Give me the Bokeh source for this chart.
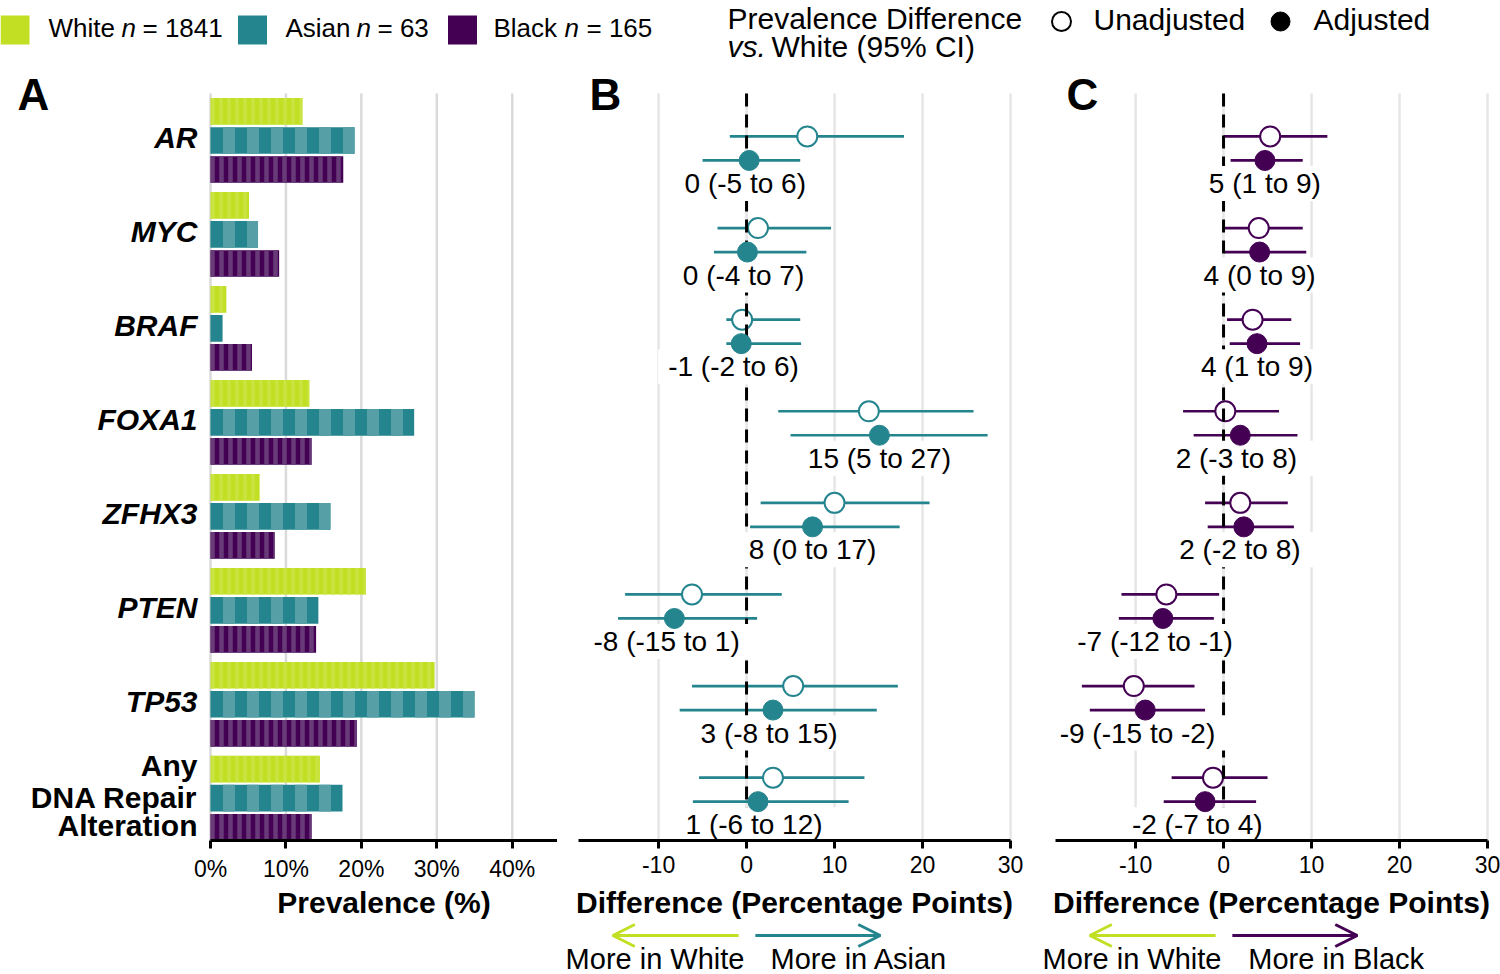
from bokeh.plotting import figure
from bokeh.models import Range1d, Arrow, OpenHead, FixedTicker
from bokeh.layouts import column, row
from bokeh.embed import file_html
from bokeh.resources import INLINE
from bokeh.core.properties import value

# ---------------- data ----------------
genes = ["AR", "MYC", "BRAF", "FOXA1", "ZFHX3", "PTEN", "TP53", "Any\nDNA Repair\nAlteration"]
gene_italic = [True, True, True, True, True, True, True, False]

groups = ["White", "Asian", "Black"]
group_n = [1841, 63, 165]

prev_white = [12.2, 5.1, 2.1, 13.1, 6.5, 20.6, 29.7, 14.5]
prev_asian = [19.1, 6.3, 1.6, 27.0, 15.9, 14.3, 35.0, 17.5]
prev_black = [17.6, 9.1, 5.5, 13.4, 8.5, 14.0, 19.4, 13.4]

# Asian vs White
asian_unadj = [6.9, 1.3, -0.5, 13.9, 10.0, -6.2, 5.3, 3.0]
asian_unadj_lo = [-1.9, -3.3, -2.3, 3.6, 1.6, -13.8, -6.2, -5.4]
asian_unadj_hi = [17.9, 9.6, 6.1, 25.8, 20.8, 4.0, 17.2, 13.4]
asian_adj = [0.3, 0.1, -0.6, 15.1, 7.5, -8.2, 3.0, 1.3]
asian_adj_lo = [-5.0, -3.7, -2.3, 5.0, 0.4, -14.6, -7.6, -6.1]
asian_adj_hi = [6.1, 6.8, 6.2, 27.4, 17.4, 1.2, 14.8, 11.6]
asian_labels = ["0 (-5  to 6)", "0 (-4  to 7)", "-1  (-2  to 6)", "15 (5 to 27)",
                "8 (0 to 17)", "-8  (-15  to 1)", "3 (-8  to 15)", "1 (-6  to 12)"]

# Black vs White
black_unadj = [5.3, 4.0, 3.3, 0.2, 1.9, -6.5, -10.2, -1.2]
black_unadj_lo = [0.0, 0.1, 0.4, -4.6, -2.1, -11.6, -16.1, -5.9]
black_unadj_hi = [11.8, 9.0, 7.7, 6.3, 7.3, -0.5, -3.3, 5.0]
black_adj = [4.7, 4.1, 3.8, 1.9, 2.3, -6.9, -8.9, -2.1]
black_adj_lo = [0.8, 0.1, 0.7, -3.4, -1.8, -11.9, -15.2, -6.8]
black_adj_hi = [9.0, 9.4, 8.7, 8.4, 8.0, -1.1, -2.1, 3.7]
black_labels = ["5 (1 to 9)", "4 (0 to 9)", "4 (1 to 9)", "2 (-3  to 8)",
                "2 (-2  to 8)", "-7  (-12  to -1)", "-9  (-15  to -2)", "-2  (-7  to 4)"]

ticks_prev = [0, 10, 20, 30, 40]
tick_labels_prev = ["0%", "10%", "20%", "30%", "40%"]
ticks_diff = [-10, 0, 10, 20, 30]
tick_labels_diff = ["-10", "0", "10", "20", "30"]

# axis data limits
PREV_LIM = (0, 46)
DIFF_LIM = (-19.1, 30)

# ---------------- style / layout ----------------
FONT = "Liberation Sans"
C_WHITE = "#C2DF23"
C_ASIAN = "#25858E"
C_BLACK = "#440154"
GRID_A = "#DADADA"
GRID_BC = "#E6E6E6"

rows = list(range(1, len(genes) + 1))
A_ROWS = (0.5, 8.45)       # vertical data limits of panel A
F_ROWS = (0.531, 8.686)    # vertical data limits of panels B, C

TOTAL_W, TOTAL_H = 1500, 974
LEG_H = 66
DATA_TOP, AXIS_Y = 93, 840
FRAME_H = AXIS_Y - LEG_H
BOTTOM_BORDER = 44
STRIP_TOP = AXIS_Y + BOTTOM_BORDER
STRIP_H = TOTAL_H - STRIP_TOP

A_FRAME = (0, 557)
B_FRAME = (557, 1032)
C_FRAME = (1032, 1500)


def ext_range(d0, d1, p0, p1, f0, f1, flip=False):
    s = (p1 - p0) / (d1 - d0)
    a, b = d0 - (p0 - f0) / s, d1 + (f1 - p1) / s
    return Range1d(b, a) if flip else Range1d(a, b)


def style_axis(p, ticks, labels, bounds):
    p.xaxis.ticker = FixedTicker(ticks=ticks)
    p.xaxis.major_label_overrides = {t: l for t, l in zip(ticks, labels)}
    p.xaxis.bounds = bounds
    p.xaxis.axis_line_width = 3
    p.xaxis.axis_line_color = "black"
    p.xaxis.major_tick_line_width = 3
    p.xaxis.major_tick_line_color = "black"
    p.xaxis.major_tick_out = 8
    p.xaxis.major_tick_in = 0
    p.xaxis.minor_tick_out = 0
    p.xaxis.minor_tick_in = 0
    p.xaxis.major_label_text_font = FONT
    p.xaxis.major_label_text_font_size = "23px"
    p.xaxis.major_label_text_color = "black"
    p.xaxis.major_label_standoff = 7
    p.xgrid.visible = False
    p.ygrid.visible = False


def panel(frame, xr, yr):
    return figure(frame_width=frame[1] - frame[0], frame_height=FRAME_H, x_range=xr, y_range=yr,
                  output_backend="svg", toolbar_location=None, min_border=0,
                  min_border_bottom=BOTTOM_BORDER,
                  y_axis_location=None, outline_line_color=None,
                  background_fill_color="white", border_fill_color="white")


def strip(frame, xr):
    s = figure(frame_width=frame[1] - frame[0], frame_height=STRIP_H, x_range=xr,
               y_range=Range1d(TOTAL_H, STRIP_TOP), output_backend="svg",
               toolbar_location=None, min_border=0, x_axis_location=None,
               y_axis_location=None, outline_line_color=None)
    s.xgrid.visible = False
    s.ygrid.visible = False
    return s


def txt(p, x, y, t, size, style="normal", align="left", color="black"):
    p.text(x=x, y=y, text=t, text_font=value(FONT), text_font_size=size,
           text_font_style=style, text_baseline="middle", text_align=align,
           text_color=color)


# ---------------- legend strip ----------------
leg = figure(width=TOTAL_W, height=LEG_H, x_range=Range1d(0, TOTAL_W), y_range=Range1d(LEG_H, 0),
             output_backend="svg", toolbar_location=None, min_border=0,
             x_axis_location=None, y_axis_location=None, outline_line_color=None)
leg.xgrid.visible = False
leg.ygrid.visible = False
leg.rect(x=[14.5, 252, 462], y=[29.5, 29.5, 29.5], width=29, height=29,
         fill_color=[C_WHITE, C_ASIAN, C_BLACK], line_color=None)
txt(leg, [48, 285, 493], [27] * 3, groups, "26px")
txt(leg, [121, 356, 564], [27] * 3, ["n"] * 3, "26px", "italic")
txt(leg, [142, 377, 586], [27] * 3, ["= %d" % n for n in group_n], "26px")
txt(leg, [727], [18], ["Prevalence Difference"], "30px")
txt(leg, [727], [46], ["vs."], "30px", "italic")
txt(leg, [771], [46], ["White (95% CI)"], "30px")
leg.scatter(x=[1061], y=[21], size=19, marker="circle", fill_color="white",
            line_color="black", line_width=2)
leg.scatter(x=[1280], y=[21], size=19, marker="circle", fill_color="black", line_color="black")
txt(leg, [1093, 1313], [19, 19], ["Unadjusted", "Adjusted"], "30px")

# ---------------- panel A ----------------
xA = ext_range(PREV_LIM[0], PREV_LIM[1], 210, 557, A_FRAME[0], A_FRAME[1])
yA = ext_range(A_ROWS[0], A_ROWS[1], DATA_TOP, AXIS_Y, LEG_H, AXIS_Y, flip=True)
pA = panel(A_FRAME, xA, yA)
style_axis(pA, ticks_prev, tick_labels_prev, PREV_LIM)
pA.segment(x0=ticks_prev, y0=A_ROWS[0], x1=ticks_prev, y1=A_ROWS[1],
           line_color=GRID_A, line_width=2.5)

bar_off = 0.309
bar_h = 0.284
pA.hbar(y=[r - bar_off for r in rows], left=0, right=prev_white, height=bar_h,
        fill_color=C_WHITE, line_color=None,
        hatch_pattern="|", hatch_scale=8, hatch_weight=3, hatch_color="#CAE443")
pA.hbar(y=rows, left=0, right=prev_asian, height=bar_h,
        fill_color=C_ASIAN, line_color=None,
        hatch_pattern="|", hatch_scale=24, hatch_weight=12, hatch_color="#569FA6")
pA.hbar(y=[r + bar_off for r in rows], left=0, right=prev_black, height=bar_h,
        fill_color=C_BLACK, line_color=None,
        hatch_pattern="|", hatch_scale=9, hatch_weight=4.5, hatch_color="#683A78")

gene_x = -1.72
gx, gy, gt, gs = [], [], [], []
for r, g, it in zip(rows, genes, gene_italic):
    lines = g.split("\n")
    offs = [-0.03] if len(lines) == 1 else [-0.351, -0.01, 0.287]
    for ln, dy in zip(lines, offs):
        gx.append(gene_x)
        gy.append(r + dy)
        gt.append(ln)
        gs.append("bold italic" if it else "bold")
pA.text(x=gx, y=gy, text=gt, text_font=value(FONT), text_font_size="30px",
        text_font_style=gs, text_baseline="middle", text_align="right", text_color="black")
txt(pA, [-25.6], [0.51], ["A"], "44px", "bold")


# ---------------- panels B, C ----------------
def forest(p, color, ue, ul, uh, ae, al, ah, labels, letter):
    style_axis(p, ticks_diff, tick_labels_diff, DIFF_LIM)
    p.segment(x0=ticks_diff, y0=F_ROWS[0], x1=ticks_diff, y1=F_ROWS[1],
              line_color=GRID_BC, line_width=2.5)
    y_u = rows
    y_a = [r + 0.262 for r in rows]
    y_l = [r + 0.513 for r in rows]
    p.segment(x0=ul, y0=y_u, x1=uh, y1=y_u, line_color=color, line_width=2.7)
    p.segment(x0=al, y0=y_a, x1=ah, y1=y_a, line_color=color, line_width=2.7)
    p.scatter(x=ue, y=y_u, marker="circle", size=20, fill_color="white",
              line_color=color, line_width=2)
    p.segment(x0=[0], y0=[F_ROWS[0]], x1=[0], y1=[F_ROWS[1]],
              line_color="black", line_width=3, line_dash="13 8")
    p.text(x=ae, y=y_l, text=labels, text_font=value(FONT), text_font_size="28px",
           text_baseline="middle", text_align="center", text_color="black",
           background_fill_color="white", padding=(10, 2))
    p.scatter(x=ae, y=y_a, marker="circle", size=20, fill_color=color, line_color=color)
    txt(p, [-17.85], [0.54], [letter], "44px", "bold")


def bottom(s, lim, title, color=None, right_group=None):
    txt(s, [(lim[0] + lim[1]) / 2], [STRIP_TOP + 18], [title], "30px", "bold", "center")
    if color is None:
        return
    ya = 935
    s.add_layout(Arrow(end=OpenHead(size=22, line_width=3, line_color=C_WHITE),
                       x_start=-0.9, y_start=ya, x_end=-15.2, y_end=ya,
                       line_width=3, line_color=C_WHITE))
    s.add_layout(Arrow(end=OpenHead(size=22, line_width=3, line_color=color),
                       x_start=1.0, y_start=ya, x_end=15.2, y_end=ya,
                       line_width=3, line_color=color))
    txt(s, [-10.4, 12.8], [958, 958], ["More in White", "More in " + right_group],
        "29px", align="center")


yF = ext_range(F_ROWS[0], F_ROWS[1], DATA_TOP, AXIS_Y, LEG_H, AXIS_Y, flip=True)
xB = ext_range(DIFF_LIM[0], DIFF_LIM[1], 578, 1010, B_FRAME[0], B_FRAME[1])
xC = ext_range(DIFF_LIM[0], DIFF_LIM[1], 1055, 1487, C_FRAME[0], C_FRAME[1])

pB = panel(B_FRAME, xB, yF)
forest(pB, C_ASIAN, asian_unadj, asian_unadj_lo, asian_unadj_hi,
       asian_adj, asian_adj_lo, asian_adj_hi, asian_labels, "B")
yC = ext_range(F_ROWS[0], F_ROWS[1], DATA_TOP, AXIS_Y, LEG_H, AXIS_Y, flip=True)
pC = panel(C_FRAME, xC, yC)
forest(pC, C_BLACK, black_unadj, black_unadj_lo, black_unadj_hi,
       black_adj, black_adj_lo, black_adj_hi, black_labels, "C")

sA = strip(A_FRAME, xA)
bottom(sA, PREV_LIM, "Prevalence (%)")
sB = strip(B_FRAME, xB)
bottom(sB, DIFF_LIM, "Difference (Percentage Points)", C_ASIAN, groups[1])
sC = strip(C_FRAME, xC)
bottom(sC, DIFF_LIM, "Difference (Percentage Points)", C_BLACK, groups[2])

layout = column(leg, row(pA, pB, pC), row(sA, sB, sC))
open("out.html", "w").write(file_html(layout, INLINE))
